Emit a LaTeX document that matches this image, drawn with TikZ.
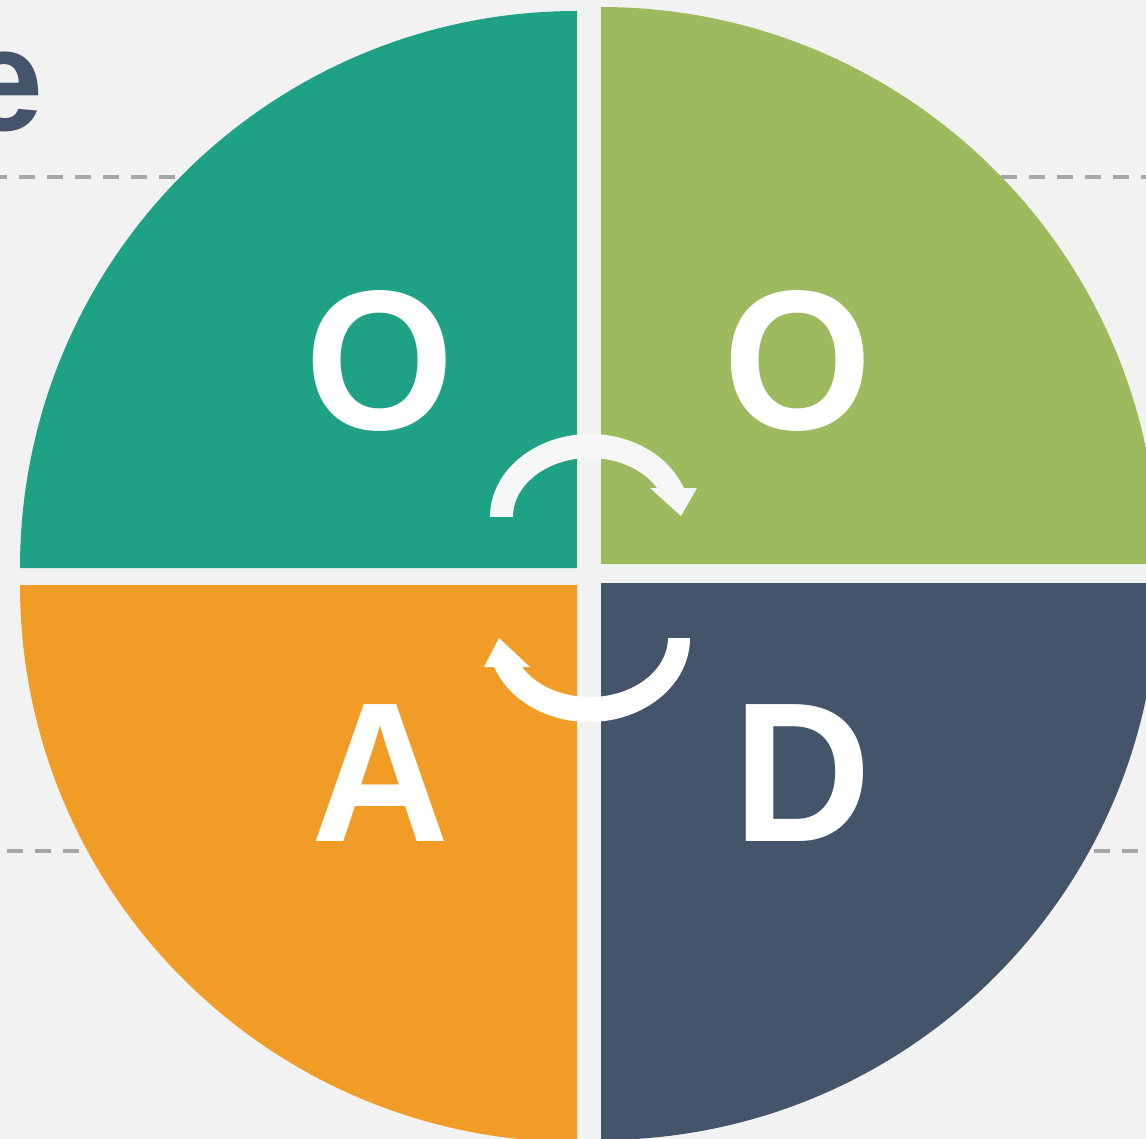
\documentclass[tikz,border=0pt]{standalone}
\usepackage{fontspec}
\setmainfont{Liberation Sans}
\newfontfamily\letterfont{Liberation Sans}[FakeStretch=0.96]
\usepackage{tikz}
\usetikzlibrary{positioning}

\definecolor{BG}{HTML}{F2F2F2}
\definecolor{Slate}{HTML}{44546A}
\definecolor{Teal}{HTML}{1FA186}
\definecolor{Lime}{HTML}{9DBB5E}
\definecolor{Amber}{HTML}{F29C28}
\definecolor{GuideGray}{HTML}{A6A6A6}

\begin{document}
\begin{tikzpicture}[x=1pt, y=1pt]
			\tikzstyle{Letter}	= [text=white, inner sep=0pt, font=\letterfont\fontsize{199}{199}\selectfont\bfseries]
			\tikzstyle{Title}	= [text=Slate, inner sep=0pt, font=\fontsize{146}{146}\selectfont\bfseries]
			\tikzstyle{Guide}	= [draw=GuideGray, line width=4pt, dash pattern=on 16pt off 12pt]
			\tikzstyle{Turn}	= [fill=white]
			
			\useasboundingbox (0,0) rectangle (1146,-1139);
			\fill[BG] (0,0) rectangle (1146,-1139);
			\clip (0,0) rectangle (1146,-1139);
			
			\node (title) at (44,-131) [Title, anchor=base east] {e};
			
			% guide lines, cut by the circle
			\draw [-] (-9,-177) -- (300,-177) [Guide];
			\draw [-] (945,-177) -- (1146,-177) [Guide];
			\draw [-] (7,-851) -- (200,-851) [Guide];
			\draw [-] (1010,-851) -- (1146,-851) [Guide];
			
			% four quarters
			\fill[Teal] (577,-568) -- (20,-568) arc[start angle=180, end angle=90, radius=557] -- cycle;
			\fill[Lime] (601,-564) -- (601,-7) arc[start angle=90, end angle=0, radius=557] -- cycle;
			\fill[Amber] (577,-585) -- (577,-1142) arc[start angle=270, end angle=180, radius=557] -- cycle;
			\fill[Slate] (601,-583) -- (1158,-583) arc[start angle=0, end angle=-90, radius=557] -- cycle;
			
			\node (observe) at (380,-361) [Letter] {O};
			\node (orient) at (798,-361) [Letter] {O};
			\node (act) at (380,-773) [Letter] {A};
			\node (decide) at (802,-773) [Letter] {D};
			
			% cycle arrows
			\fill[Turn, fill=white!97!black] (490,-517) arc[start angle=180, end angle=20.4, x radius=100, y radius=83]
				-- (697,-488) -- (681,-516) -- (650,-488) -- (657,-488)
				arc[start angle=29.4, end angle=180, x radius=77, y radius=59] -- cycle;
			\fill[Turn] (690,-638) arc[start angle=0, end angle=-159.6, x radius=101, y radius=84]
				-- (484,-667) -- (499,-638) -- (530,-667) -- (522,-667)
				arc[start angle=-150.6, end angle=0, x radius=78, y radius=59] -- cycle;
		\end{tikzpicture}
\end{document}
